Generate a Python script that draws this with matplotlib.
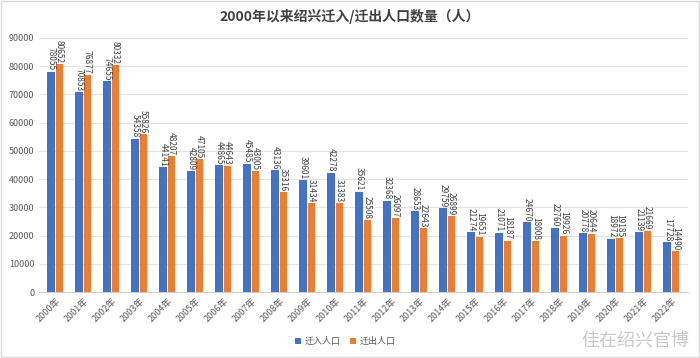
import matplotlib
matplotlib.use("Agg")
import matplotlib.pyplot as plt
import numpy as np

plt.rcParams['font.family'] = ['Noto Sans CJK SC', 'DejaVu Sans']

years = ["%d年" % y for y in range(2000, 2023)]
moved_in = [78055, 70853, 74655, 54358, 44141, 42809, 44865, 45485, 43136, 39601,
            42278, 35621, 32368, 28653, 29759, 21274, 21071, 24670, 22760, 20778,
            18972, 21139, 17728]
moved_out = [80652, 76877, 80332, 55826, 48207, 47105, 44643, 43005, 35316, 31434,
             31383, 25508, 26097, 22643, 26899, 19651, 18187, 18008, 19926, 20644,
             19185, 21669, 14490]
yticks = list(range(0, 90001, 10000))

blue = "#4472C4"
orange = "#ED7D31"

fig = plt.figure(figsize=(7, 3.58), dpi=100)
ax = fig.add_axes([0.055, 0.184, 0.928, 0.71])

x = np.arange(len(years))
w = 0.27
b1 = ax.bar(x - 0.145, moved_in, w, color=blue, label="迁入人口", zorder=3)
b2 = ax.bar(x + 0.145, moved_out, w, color=orange, label="迁出人口", zorder=3)

for bars in (b1, b2):
    for r in bars:
        h = r.get_height()
        ax.text(r.get_x() + r.get_width() / 2, h + 400, str(int(h)), rotation=-90,
                ha="center", va="bottom", fontsize=6, color="#404040",
                rotation_mode="anchor" if False else "default")

ax.set_ylim(0, 90000)
ax.set_xlim(-0.6, len(years) - 0.4)
ax.set_yticks(yticks)
ax.set_yticklabels([str(v) for v in yticks], fontsize=6.5, color="#595959")
ax.set_xticks(x)
ax.set_xticklabels(years, rotation=45, ha="right", rotation_mode="anchor",
                   fontsize=6.5, color="#595959")
ax.tick_params(length=0, pad=3)
ax.grid(axis="y", color="#E4E4E4", linewidth=0.8, zorder=0)
for s in ("top", "right", "left"):
    ax.spines[s].set_visible(False)
ax.spines["bottom"].set_color("#D0D0D0")

fig.text(0.5, 0.955, "2000年以来绍兴迁入/迁出人口数量（人）", ha="center", va="center",
         fontsize=10, fontweight="bold", color="#404040")

fig.legend(handles=[b1, b2], loc="center", bbox_to_anchor=(0.493, 0.045), ncol=2,
           frameon=False, fontsize=6.5, handlelength=0.7, handleheight=0.7,
           columnspacing=1.0, handletextpad=0.4, labelcolor="#595959")

fig.text(0.985, 0.045, "佳在绍兴官博", ha="right", va="center", fontsize=13,
         color="#BBBBBB", alpha=0.8)

fig.patches.append(plt.Rectangle((0.002, 0.003), 0.996, 0.994, transform=fig.transFigure,
                                 fill=False, edgecolor="#D9D9D9", linewidth=1))

fig.savefig("out.png", dpi=100)
